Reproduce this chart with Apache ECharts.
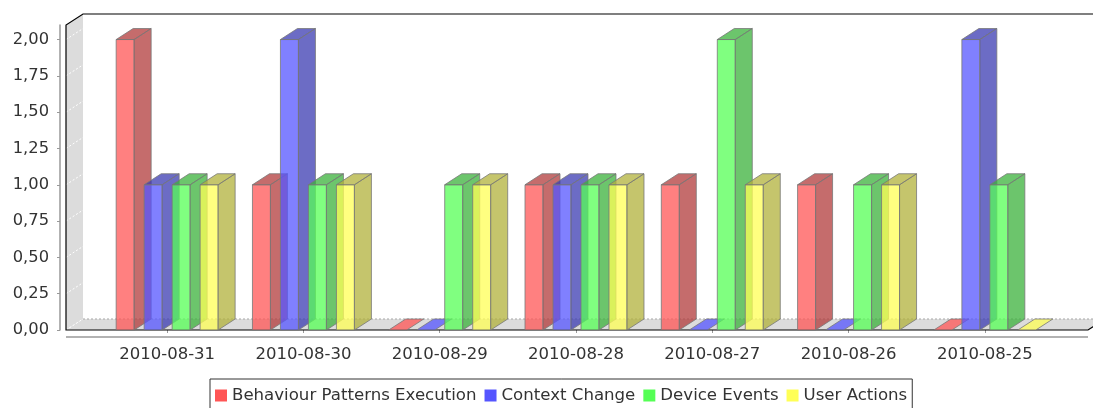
<!DOCTYPE html>
<html>
<head>
<meta charset="utf-8">
<script src="https://cdn.jsdelivr.net/npm/echarts@6/dist/echarts.min.js"></script>
<style>
  html, body { margin: 0; padding: 0; background: #fff; }
  #chart { width: 1093px; height: 408px; }
</style>
</head>
<body>
<div id="chart"></div>
<script>
const dates = ['2010-08-31', '2010-08-30', '2010-08-29', '2010-08-28', '2010-08-27', '2010-08-26', '2010-08-25'];
const behaviourPatterns = [2, 1, 0, 1, 1, 1, 0];
const contextChange = [1, 2, 0, 1, 0, 0, 2];
const deviceEvents = [1, 1, 1, 1, 2, 1, 1];
const userActions = [1, 1, 1, 1, 1, 1, 0];
const yTicks = [0, 0.25, 0.5, 0.75, 1, 1.25, 1.5, 1.75, 2];

const seriesNames = ['Behaviour Patterns Execution', 'Context Change', 'Device Events', 'User Actions'];
const seriesValues = [behaviourPatterns, contextChange, deviceEvents, userActions];
// base colour, darker shade (jfreechart style), alpha 0.75
const palette = [
    { legend: '#ff5555', front: 'rgba(255,85,85,0.75)', dark: 'rgba(178,59,59,0.75)' },
    { legend: '#5555ff', front: 'rgba(85,85,255,0.75)', dark: 'rgba(59,59,178,0.75)' },
    { legend: '#55ff55', front: 'rgba(85,255,85,0.75)', dark: 'rgba(59,178,59,0.75)' },
    { legend: '#ffff55', front: 'rgba(255,255,85,0.75)', dark: 'rgba(178,178,59,0.75)' }
];

const DX = 17, DY = 11;
const OUTLINE = 'rgba(120,120,120,0.8)';
const FONT = 'DejaVu Sans';

// wall, floor, outline and long x axis line
function renderFrame(params, api) {
    const cs = params.coordSys;
    const left = cs.x - 33;
    const right = cs.x + cs.width + 35;
    const top = cs.y;
    const bottom = cs.y + cs.height;
    const children = [];

    children.push({
        type: 'polygon',
        shape: { points: [[left, top], [left + DX, top - DY], [left + DX, bottom - DY], [left, bottom]] },
        style: { fill: '#dcdcdc' }
    });
    children.push({
        type: 'polygon',
        shape: { points: [[left, bottom], [left + DX, bottom - DY], [right + DX, bottom - DY], [right, bottom]] },
        style: { fill: '#dcdcdc' }
    });
    yTicks.forEach(v => {
        const y = api.coord([0, v])[1];
        children.push({
            type: 'line',
            shape: { x1: left, y1: y, x2: left + DX, y2: y - DY },
            style: { stroke: '#ffffff', lineWidth: 1, lineDash: [2, 2] }
        });
    });
    children.push({
        type: 'line',
        shape: { x1: left + DX, y1: bottom - DY, x2: right + DX, y2: bottom - DY },
        style: { stroke: '#a8a8a8', lineWidth: 1, lineDash: [2, 2] }
    });
    children.push({
        type: 'polyline',
        shape: { points: [[right + DX, bottom - DY], [right, bottom], [left, bottom], [left, top], [left + DX, top - DY], [right + DX, top - DY]] },
        style: { stroke: '#000', lineWidth: 1.2, fill: null }
    });
    children.push({
        type: 'line',
        shape: { x1: left, y1: bottom + 7, x2: right, y2: bottom + 7 },
        style: { stroke: '#999', lineWidth: 1.5 }
    });
    return { type: 'group', children: children };
}

function makeBarRenderer(idx) {
    const col = palette[idx];
    return function (params, api) {
        const cat = api.value(0);
        const val = api.value(1);
        const base = api.coord([cat, 0]);
        const topPt = api.coord([cat, val]);
        const band = api.size([1, 0])[0];
        const step = band * 0.2054;
        const w = band * 0.132;
        const x = base[0] - (3 * step + w) / 2 + idx * step;
        const y0 = base[1];
        const y1 = topPt[1];
        const children = [];
        if (val > 0) {
            children.push({
                type: 'rect',
                shape: { x: x, y: y1, width: w, height: y0 - y1 },
                style: { fill: col.front, stroke: OUTLINE, lineWidth: 1 }
            });
            children.push({
                type: 'polygon',
                shape: { points: [[x + w, y1], [x + w + DX, y1 - DY], [x + w + DX, y0 - DY], [x + w, y0]] },
                style: { fill: col.dark, stroke: OUTLINE, lineWidth: 1 }
            });
        }
        children.push({
            type: 'polygon',
            shape: { points: [[x, y1], [x + DX, y1 - DY], [x + w + DX, y1 - DY], [x + w, y1]] },
            style: { fill: val > 0 ? col.dark : col.front, stroke: OUTLINE, lineWidth: 1 }
        });
        return { type: 'group', children: children };
    };
}

const chart = echarts.init(document.getElementById('chart'));

const series = [{
    name: 'frame',
    type: 'custom',
    renderItem: renderFrame,
    data: [[0, 0]],
    silent: true,
    z: 1
}];
seriesNames.forEach((name, i) => {
    series.push({
        name: name,
        type: 'custom',
        renderItem: makeBarRenderer(i),
        itemStyle: { color: palette[i].legend },
        encode: { x: 0, y: 1 },
        data: seriesValues[i].map((v, c) => [c, v]),
        z: 2
    });
});

const option = {
    animation: false,
    backgroundColor: '#ffffff',
    textStyle: { fontFamily: FONT },
    grid: {
        left: 99,
        right: 40,
        top: 25,
        bottom: 78,
        containLabel: false
    },
    legend: {
        data: seriesNames,
        left: 210,
        top: 379,
        icon: 'rect',
        itemWidth: 12,
        itemHeight: 12,
        itemGap: 8,
        padding: [8, 5, 8, 5],
        borderColor: '#333',
        borderWidth: 1,
        textStyle: { fontSize: 16.6, color: '#333', fontFamily: FONT }
    },
    xAxis: {
        type: 'category',
        data: dates,
        offset: 7,
        axisLine: { show: false },
        axisTick: { show: true, alignWithLabel: true, length: 3, lineStyle: { color: '#999' } },
        axisLabel: { margin: 9, fontSize: 16.5, color: '#333', fontFamily: FONT },
        splitLine: { show: false }
    },
    yAxis: {
        type: 'value',
        min: 0,
        max: 2.1,
        interval: 0.25,
        offset: 39,
        axisLine: { show: true, lineStyle: { color: '#999', width: 1.5 } },
        axisTick: { show: true, length: 3, customValues: yTicks, lineStyle: { color: '#999' } },
        axisLabel: {
            margin: 11,
            fontSize: 16.3,
            color: '#333',
            fontFamily: FONT,
            customValues: yTicks,
            formatter: v => v.toFixed(2).replace('.', ',')
        },
        splitLine: { show: false }
    },
    series: series
};

chart.setOption(option);
</script>
</body>
</html>
